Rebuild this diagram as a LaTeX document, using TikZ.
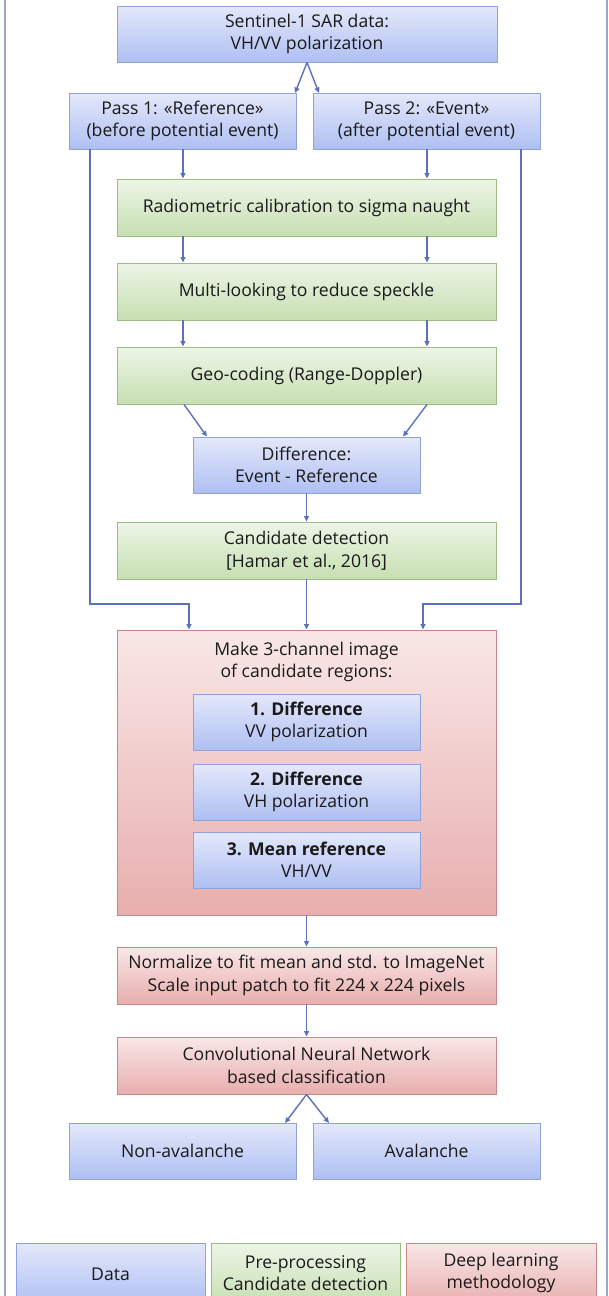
\documentclass[tikz,border=0pt]{standalone}
\usepackage{fontspec}
\setmainfont{Open Sans}
\usetikzlibrary{arrows.meta}
\definecolor{bluetop}{HTML}{E4E8FA}
\definecolor{bluebot}{HTML}{AEBFF3}
\definecolor{blueedge}{HTML}{8FA2DA}
\definecolor{greentop}{HTML}{EEF5E8}
\definecolor{greenbot}{HTML}{C6DFB1}
\definecolor{greenedge}{HTML}{9BBD7E}
\definecolor{redtop}{HTML}{F9E7E7}
\definecolor{redbot}{HTML}{E8AEAE}
\definecolor{rededge}{HTML}{C98888}
\definecolor{arrowc}{HTML}{5B72BA}
\definecolor{framec}{HTML}{9AA7CE}
\definecolor{txt}{HTML}{1A1A1A}
\tikzset{
  base/.style={draw, line width=0.9pt, align=center, text=txt, inner sep=0pt,
    font=\fontsize{17.6}{22.5}\selectfont},
  bluebox/.style={base, draw=blueedge, top color=bluetop, bottom color=bluebot},
  greenbox/.style={base, draw=greenedge, top color=greentop, bottom color=greenbot},
  redbox/.style={base, draw=rededge, top color=redtop, bottom color=redbot},
  wide/.style={minimum width=379pt, minimum height=57pt},
  narrow/.style={minimum width=227pt, minimum height=56pt},
  conn/.style={draw=arrowc, line width=1.4pt, -{Triangle[length=5.5pt,width=5pt]}},
}
\begin{document}
\begin{tikzpicture}[x=1pt,y=-1pt]
\path[use as bounding box] (0,0) rectangle (608,1296);
\clip (0,0) rectangle (608,1296);
% frame
\draw[framec, line width=1.5pt] (5,-5) -- (5,1300);
\draw[framec, line width=1.5pt] (607,-5) -- (607,1300);

\node[bluebox, minimum width=380pt, minimum height=56pt] (sent) at (307,34) {Sentinel-1 SAR data:\\VH/VV polarization};
\node[bluebox, narrow] (pass1) at (182.5,121) {Pass 1: «Reference»\\(before potential event)};
\node[bluebox, narrow] (pass2) at (426.5,121) {Pass 2: «Event»\\(after potential event)};
\node[greenbox, wide] (radio) at (306.5,207.5) {Radiometric calibration to sigma naught};
\node[greenbox, wide] (multi) at (306.5,291.5) {Multi-looking to reduce speckle};
\node[greenbox, wide] (geo) at (306.5,375.5) {Geo-coding (Range-Doppler)};
\node[bluebox, narrow] (diff) at (306.5,465) {Difference:\\Event - Reference};
\node[greenbox, wide] (cand) at (306.5,550.5) {Candidate detection\\{[}Hamar et al., 2016{]}};
\node[redbox, minimum width=379pt, minimum height=285pt] (make) at (306.5,772.5) {};
\node[base, draw=none] (maketxt) at (306.5,662) {Make 3-channel image\\of candidate regions:};
\node[bluebox, narrow] (ch1) at (306.5,722) {\textbf{1. Difference}\\VV polarization};
\node[bluebox, narrow] (ch2) at (306.5,792) {\textbf{2. Difference}\\VH polarization};
\node[bluebox, narrow] (ch3) at (306.5,860) {\textbf{3. Mean reference}\\VH/VV};
\node[redbox, wide] (norm) at (306.5,975.5) {Normalize to fit mean and std. to ImageNet\\Scale input patch to fit 224 x 224 pixels};
\node[redbox, wide] (cnn) at (306.5,1065.5) {Convolutional Neural Network\\based classification};
\node[bluebox, narrow] (non) at (182.5,1151) {Non-avalanche};
\node[bluebox, narrow] (aval) at (426.5,1151) {Avalanche};
% legend
\node[bluebox, minimum width=189pt, minimum height=62pt] (ldata) at (110.5,1274) {Data};
\node[greenbox, minimum width=189pt, minimum height=62pt] (lpre) at (305.5,1274) {};
\node[base, draw=none] at (305.5,1273) {Pre-processing\\Candidate detection};
\node[redbox, minimum width=190pt, minimum height=62pt] (ldeep) at (501,1274) {};
\node[base, draw=none] at (501,1273) {Deep learning\\methodology};

% connectors
\draw[conn] (sent.south) -- (295,93);
\draw[conn] (sent.south) -- (319,93);
\draw[conn] (pass1.south -| 183,0) -- (radio.north -| 183,0);
\draw[conn] (pass2.south -| 427,0) -- (radio.north -| 427,0);
\draw[conn] (radio.south -| 183,0) -- (multi.north -| 183,0);
\draw[conn] (radio.south -| 427,0) -- (multi.north -| 427,0);
\draw[conn] (multi.south -| 183,0) -- (geo.north -| 183,0);
\draw[conn] (multi.south -| 427,0) -- (geo.north -| 427,0);
\draw[conn] (geo.south -| 184,0) -- (diff.north -| 207,0);
\draw[conn] (geo.south -| 427,0) -- (diff.north -| 403,0);
\draw[conn] (diff.south) -- (cand.north);
\draw[conn] (cand.south) -- (make.north);
\draw[conn] (pass1.south -| 90,0) -- (90,604) -- (189,604) -- (make.north -| 189,0);
\draw[conn] (pass2.south -| 521,0) -- (521,604) -- (423,604) -- (make.north -| 423,0);
\draw[conn] (make.south) -- (norm.north);
\draw[conn] (norm.south) -- (cnn.north);
\draw[conn] (cnn.south) -- (285,1123);
\draw[conn] (cnn.south) -- (329,1123);
\end{tikzpicture}
\end{document}
